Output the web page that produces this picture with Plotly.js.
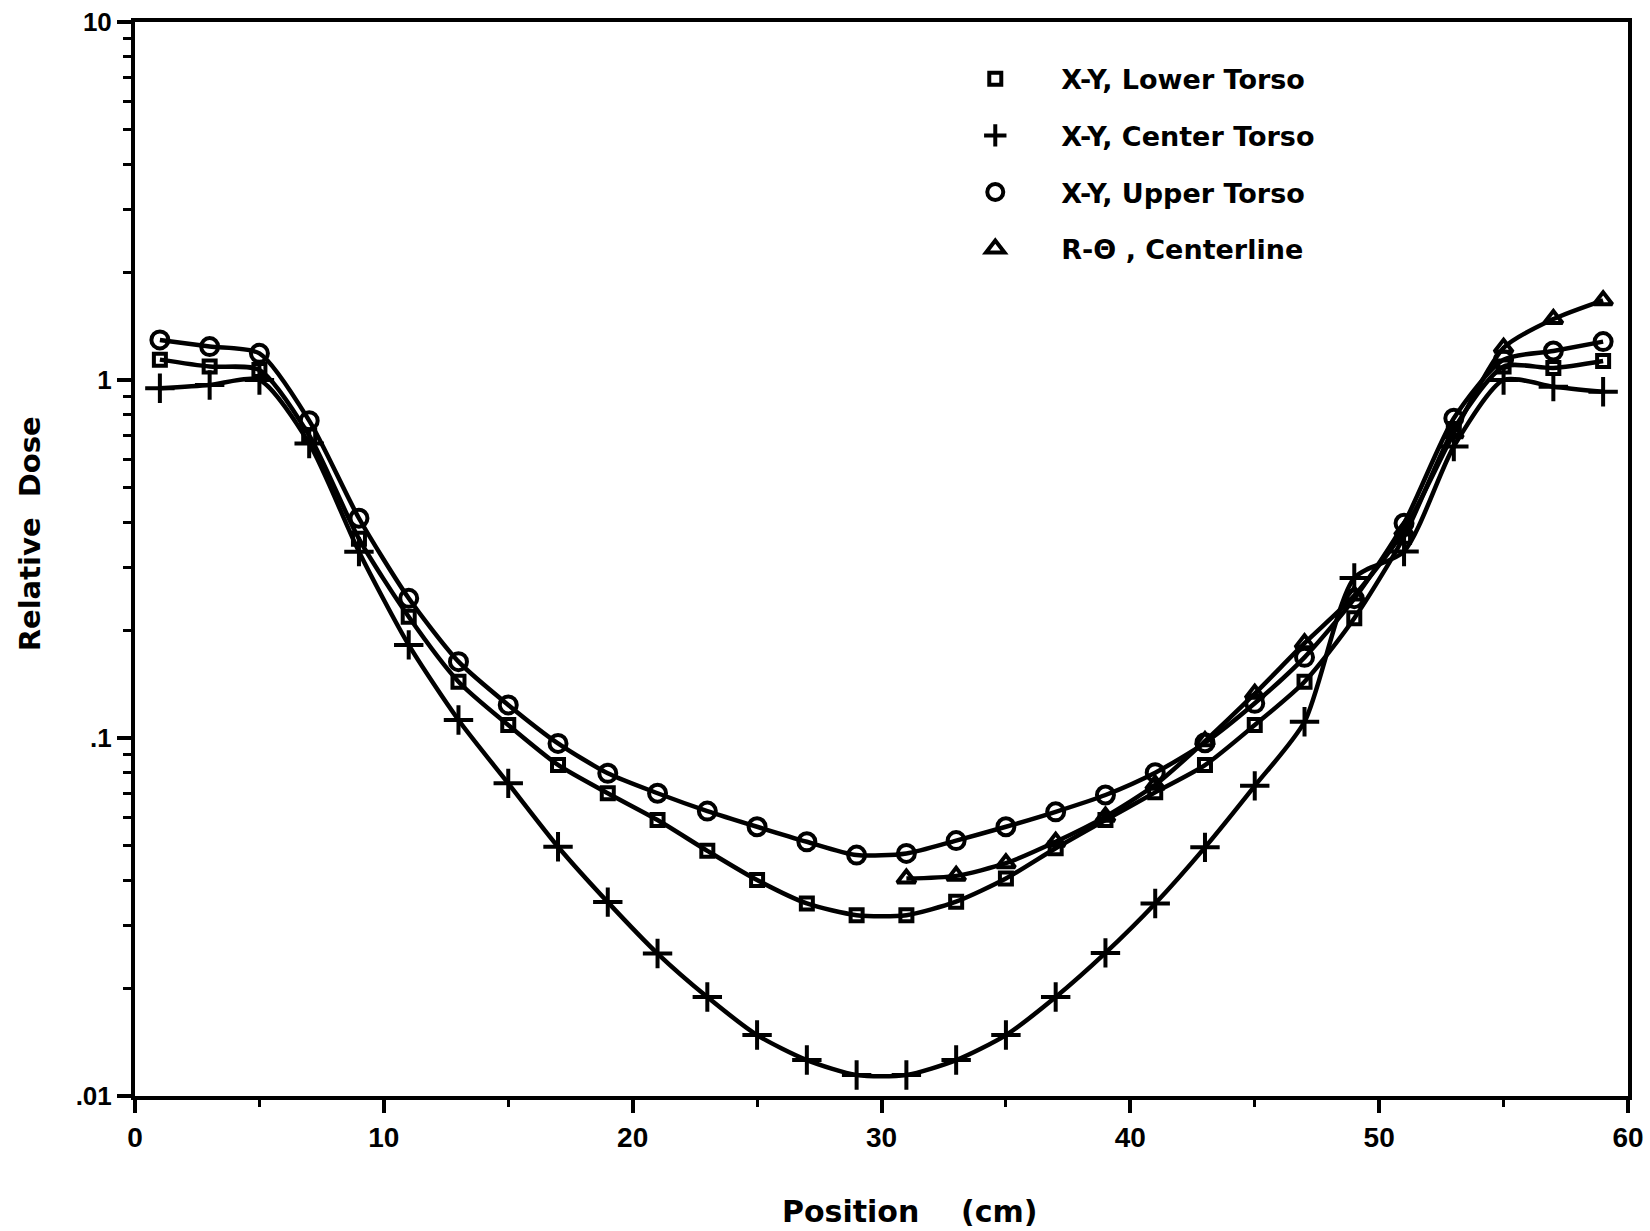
<!DOCTYPE html>
<html>
<head>
<meta charset="utf-8">
<script src="https://cdn.plot.ly/plotly-3.0.1.min.js"></script>
<style>html,body{margin:0;padding:0;background:#fff;}#chart{width:1650px;height:1231px;}</style>
</head>
<body>
<div id="chart"></div>
<script>
// ---- data ----
const positions = [1,3,5,7,9,11,13,15,17,19,21,23,25,27,29,31,33,35,37,39,41,43,45,47,49,51,53,55,57,59];
const lowerTorso = [1.14,1.09,1.067,0.70,0.36,0.218,0.1436,0.1087,0.0841,0.0701,0.059,0.0484,0.0401,0.0345,0.032,0.032,0.0349,0.0405,0.0492,0.059,0.0705,0.084,0.1087,0.1436,0.216,0.365,0.73,1.09,1.08,1.13];
const centerTorso = [0.948,0.968,1.0,0.665,0.3315,0.182,0.1123,0.0747,0.0497,0.0348,0.025,0.0189,0.0148,0.0126,0.01145,0.01145,0.0126,0.0148,0.0189,0.0251,0.0345,0.0495,0.0735,0.111,0.28,0.332,0.652,1.0,0.958,0.927];
const upperTorso = [1.294,1.24,1.187,0.77,0.411,0.2456,0.1634,0.1237,0.0966,0.0797,0.0701,0.0625,0.0565,0.0513,0.0471,0.0476,0.0517,0.0565,0.0622,0.0693,0.08,0.097,0.125,0.168,0.245,0.398,0.782,1.14,1.205,1.28];
const rThetaPositions = [31,33,35,37,39,41,43,45,47,49,51,53,55,57,59];
const rThetaCenterline = [0.0405,0.0412,0.0447,0.0513,0.0603,0.074,0.098,0.133,0.184,0.25,0.38,0.71,1.23,1.48,1.67];
const seriesNames = ['X-Y, Lower Torso','X-Y, Center Torso','X-Y, Upper Torso','R-\u0398 , Centerline'];
const xTickVals = [0,10,20,30,40,50,60];
const yTickVals = [0.01,0.1,1,10];
const yTickText = ['.01','.1','1','10'];
const yMinorVals = [0.02,0.03,0.04,0.05,0.06,0.07,0.08,0.09,0.2,0.3,0.4,0.5,0.6,0.7,0.8,0.9,2,3,4,5,6,7,8,9];
const xTitle = 'Position&nbsp;&nbsp;&nbsp;&nbsp;(cm)';
const yTitle = 'Relative&nbsp;&nbsp;Dose';

// ---- styles ----
const ink = '#000';
const markers = [
  {symbol:'square-open', size:12, color:ink, line:{width:4, color:ink}},
  {symbol:'cross-thin-open', size:21, color:ink, line:{width:4, color:ink}},
  {symbol:'circle-open', size:17, color:ink, line:{width:4, color:ink}},
  {symbol:'triangle-up-open', size:16, color:ink, line:{width:4, color:ink}}
];
const lineStyle = {color:ink, width:4.5, shape:'spline', smoothing:0.7};
const seriesX = [positions, positions, positions, rThetaPositions];
const seriesY = [lowerTorso, centerTorso, upperTorso, rThetaCenterline];

const traces = [];
for (let i = 0; i < 4; i++) {
  traces.push({
    type:'scatter', mode:'lines+markers', x:seriesX[i], y:seriesY[i],
    name:seriesNames[i], line:lineStyle, marker:markers[i],
    showlegend:false, legendgroup:'g'+i, hoverinfo:'x+y'
  });
}
for (let i = 0; i < 4; i++) {
  traces.push({
    type:'scatter', mode:'markers', x:[null], y:[null],
    name:seriesNames[i], marker:markers[i], showlegend:true, legendgroup:'g'+i
  });
}

const tickFont = {family:'Liberation Sans, Arial, sans-serif', weight:'bold', color:ink};
const titleFont = {family:'DejaVu Sans, sans-serif', weight:'bold', color:ink};

const layout = {
  width:1650, height:1231,
  margin:{l:135, r:22, t:22, b:135, pad:0},
  paper_bgcolor:'#fff', plot_bgcolor:'#fff',
  showlegend:true,
  xaxis:{
    range:[0,60], tickmode:'array', tickvals:xTickVals,
    ticks:'outside', ticklen:13, tickwidth:4, tickcolor:ink,
    showline:true, linewidth:4, linecolor:ink, mirror:true,
    showgrid:false, zeroline:false,
    tickfont:Object.assign({size:28}, tickFont),
    minor:{tickmode:'linear', tick0:0, dtick:5, ticks:'outside', ticklen:7, tickwidth:3, tickcolor:ink, showgrid:false}
  },
  yaxis:{
    type:'log', range:[-2,1], tickmode:'array', tickvals:yTickVals, ticktext:yTickText,
    ticks:'outside', ticklen:14, tickwidth:4, tickcolor:ink,
    showline:true, linewidth:4, linecolor:ink, mirror:true,
    showgrid:false, zeroline:false,
    tickfont:Object.assign({size:26}, tickFont),
    minor:{tickmode:'array', tickvals:yMinorVals, ticks:'outside', ticklen:8, tickwidth:3, tickcolor:ink, showgrid:false}
  },
  legend:{
    x:0.532, y:0.9695, xanchor:'left', yanchor:'top',
    bgcolor:'rgba(0,0,0,0)', borderwidth:0,
    itemwidth:122, traceorder:'grouped', tracegroupgap:18.5,
    font:Object.assign({size:27}, titleFont)
  },
  annotations:[
    {text:xTitle, xref:'paper', yref:'paper', x:0.5188, y:-0.108, xanchor:'center', yanchor:'middle',
     showarrow:false, font:Object.assign({size:30}, titleFont)},
    {text:yTitle, xref:'paper', yref:'paper', x:-0.0703, y:0.523, xanchor:'center', yanchor:'middle',
     textangle:-90, showarrow:false, font:Object.assign({size:29}, titleFont)}
  ]
};

Plotly.newPlot('chart', traces, layout, {displayModeBar:false, staticPlot:true});
</script>
</body>
</html>
